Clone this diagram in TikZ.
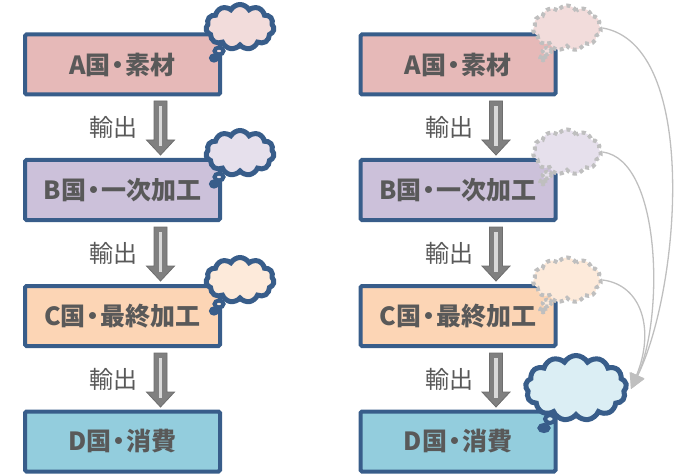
\documentclass[tikz,border=0pt]{standalone}
\usepackage{fontspec}
\setmainfont{Noto Sans CJK JP}
\usetikzlibrary{shapes.symbols,arrows.meta}
\definecolor{bordc}{HTML}{385D8A}
\definecolor{txtc}{HTML}{595959}
\definecolor{fA}{HTML}{E6B9B8}
\definecolor{fB}{HTML}{CCC1DA}
\definecolor{fC}{HTML}{FCD5B5}
\definecolor{fD}{HTML}{93CDDD}
\definecolor{cA}{HTML}{F2DCDB}
\definecolor{cB}{HTML}{E6E0EC}
\definecolor{cC}{HTML}{FDEADA}
\definecolor{cD}{HTML}{DBEEF4}
\definecolor{arrf}{HTML}{808080}
\definecolor{arrd}{HTML}{6E6E6E}
\definecolor{arri}{HTML}{D9D9D9}
\definecolor{dashc}{HTML}{BFBFBF}
\newcommand{\ndot}{\kern-5pt・\kern-5pt}
\tikzset{
  box/.style={draw=bordc, line width=4pt, rounded corners=1.5pt, minimum width=195pt, minimum height=60pt,
    inner sep=0pt, font=\bfseries\fontsize{25}{25}\selectfont, text=txtc},
  exlabel/.style={font=\fontsize{24}{24}\selectfont, text=txtc, inner sep=0pt},
  cloudbase/.style={shape=cloud, cloud puffs=11, cloud puff arc=120, aspect=1.5,
    inner sep=0pt, minimum width=68pt, minimum height=45pt},
  solidcloud/.style={cloudbase, draw=bordc, line width=5pt},
  dashcloud/.style={cloudbase, draw=dashc, line width=4pt, dash pattern=on 4pt off 3.5pt},
  solidtail/.style={draw=bordc, line width=4pt},
  dashtail/.style={draw=dashc, line width=3.5pt, dash pattern=on 3.5pt off 2pt},
  linkcurve/.style={draw=dashc, line width=1.3pt, -{Triangle[length=15pt,width=15pt,fill=dashc]}},
  blockarrow/.pic={
    \path[fill=arrf, draw=arrd, line width=0.8pt]
      (-6.5,0) -- (6.5,0) -- (6.5,39) -- (14,39) -- (0,54) -- (-14,39) -- (-6.5,39) -- cycle;
    \path[fill=arri] (-1.6,5) rectangle (1.6,45);
  }
}
\begin{document}
\begin{tikzpicture}[x=1pt,y=-1pt]
\useasboundingbox (0,0) rectangle (675,476);
% left column
\node[box, fill=fA] (lA) at (122.5,64.5) {A国\ndot 素材};
\node[box, fill=fB] (lB) at (122.5,190) {B国\ndot 一次加工};
\node[box, fill=fC] (lC) at (122.5,316) {C国\ndot 最終加工};
\node[box, fill=fD] (lD) at (122.5,441.5) {D国\ndot 消費};
% right column
\node[box, fill=fA] (rA) at (458,64.5) {A国\ndot 素材};
\node[box, fill=fB] (rB) at (458,190) {B国\ndot 一次加工};
\node[box, fill=fC] (rC) at (458,316) {C国\ndot 最終加工};
\node[box, fill=fD] (rD) at (458,441.5) {D国\ndot 消費};
% block arrows
\foreach \y in {101,227,353} {\pic at (160.5,\y) {blockarrow};}
\foreach \y in {101,227,353} {\pic at (496,\y) {blockarrow};}
% labels
\foreach \y/\n in {127/1,253/2,379/3} {
  \node[exlabel] (lx\n) at (113,\y) {輸出};
  \node[exlabel] (rx\n) at (449,\y) {輸出};
}
% left clouds with tails
\foreach \n/\f/\y in {A/cA/27,B/cB/153,C/cC/280} {
  \node[solidcloud, fill=\f] (lc\n) at (240,\y) {};
  \draw[solidtail, fill=\f] (219,\y+24) ellipse (4.5pt and 3.5pt);
  \draw[solidtail, fill=bordc] (214,\y+31) ellipse (3pt and 2.5pt);
}
% right dashed clouds with tails
\foreach \n/\f/\y in {A/cA/28,B/cB/152,C/cC/280} {
  \node[dashcloud, fill=\f] (rc\n) at (567,\y) {};
  \draw[dashtail, fill=\f] (547,\y+23) ellipse (4.5pt and 3.5pt);
  \draw[dashtail, fill=dashc] (543,\y+30) ellipse (3pt and 2.5pt);
}
% D cloud
\node[solidcloud, fill=cD, cloud puffs=13, minimum width=101pt, minimum height=65pt] (rcD) at (576,388) {};
\draw[solidtail, fill=cD] (550,419) ellipse (5pt and 4pt);
\draw[solidtail, fill=bordc] (544,428) ellipse (4.5pt and 3pt);
% curves
\coordinate (tgt) at (631,389);
\draw[linkcurve] (rcA.east) .. controls (700,45) and (680,290) .. (tgt);
\draw[linkcurve] (rcB.east) .. controls (662,160) and (664,320) .. (tgt);
\draw[linkcurve] (rcC.east) .. controls (642,285) and (655,330) .. (tgt);
\end{tikzpicture}
\end{document}
